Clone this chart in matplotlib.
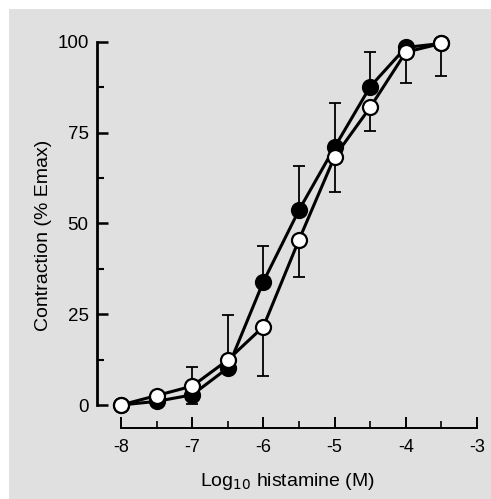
import numpy as np
import matplotlib.pyplot as plt
from matplotlib.patches import Rectangle
from matplotlib.ticker import MultipleLocator

plt.rcParams['font.family'] = ['Liberation Sans', 'DejaVu Sans']

log_conc = [-8, -7.5, -7, -6.5, -6, -5.5, -5, -4.5, -4, -3.5]

# filled circles (error bars drawn upwards)
filled_y = [0, 1, 2.8, 10.2, 34, 53.7, 71, 87.7, 98.5, 99.6]
filled_err = [0, 0, 7.6, 14.7, 9.8, 12.2, 12.1, 9.6, 0, 0]

# open circles (error bars drawn downwards)
open_y = [0, 2.6, 5.2, 12.4, 21.6, 45.5, 68.4, 82, 97.2, 99.6]
open_err = [0, 0, 4.8, 0, 13.6, 10.3, 9.8, 6.5, 8.4, 9]

bg = '#e0e0e0'
fig = plt.figure(figsize=(4.91, 4.99), dpi=100)
fig.patches.append(Rectangle((9 / 491, 0), 1, 1 - 9 / 499, transform=fig.transFigure,
                             facecolor=bg, edgecolor='none', zorder=-10))

ax = fig.add_axes([97 / 491, 71 / 499, 380 / 491, 386 / 499])
ax.set_facecolor('none')

fy = np.array(filled_y)
oy = np.array(open_y)
fe = np.array(filled_err)
oe = np.array(open_err)

ax.errorbar(log_conc, fy, yerr=[np.zeros_like(fe), fe], fmt='none', ecolor='black',
            elinewidth=1.3, capsize=4.3, capthick=1.3, zorder=2, clip_on=False)
ax.errorbar(log_conc, oy, yerr=[oe, np.zeros_like(oe)], fmt='none', ecolor='black',
            elinewidth=1.3, capsize=4.3, capthick=1.3, zorder=2, clip_on=False)

ax.plot(log_conc, fy, '-o', color='black', lw=2.2, ms=10.8, mfc='black', mec='black',
        mew=1.6, zorder=3, clip_on=False)
ax.plot(log_conc, oy, '-o', color='black', lw=2.2, ms=10.8, mfc='white', mec='black',
        mew=1.6, zorder=4, clip_on=False)

ax.set_xlim(-8 - 24 / 71.2, -3)
ax.set_ylim(-23 / 3.63, 100)

for s in ['top', 'right']:
    ax.spines[s].set_visible(False)
ax.spines['left'].set_bounds(0, 100)
ax.spines['bottom'].set_bounds(-8, -3)
ax.spines['left'].set_linewidth(2.0)
ax.spines['bottom'].set_linewidth(1.4)

ax.set_xticks([-8, -7, -6, -5, -4, -3])
ax.set_xticklabels(['-8', '-7', '-6', '-5', '-4', '-3'])
ax.xaxis.set_minor_locator(MultipleLocator(0.5))
ax.set_yticks([0, 25, 50, 75, 100])
ax.yaxis.set_minor_locator(MultipleLocator(12.5))

ax.tick_params(axis='x', which='major', direction='in', length=8, width=1.4, labelsize=13, pad=8)
ax.tick_params(axis='x', which='minor', direction='in', length=5, width=1.2)
ax.tick_params(axis='y', which='major', direction='in', length=8, width=1.8, labelsize=13.5, pad=6)
ax.tick_params(axis='y', which='minor', direction='in', length=5, width=1.5)

ax.set_xlabel('Log$_{10}$ histamine (M)', fontsize=14, labelpad=11)
ax.set_ylabel('Contraction (% Emax)', fontsize=14, labelpad=4)

fig.savefig('out.png', dpi=100)
